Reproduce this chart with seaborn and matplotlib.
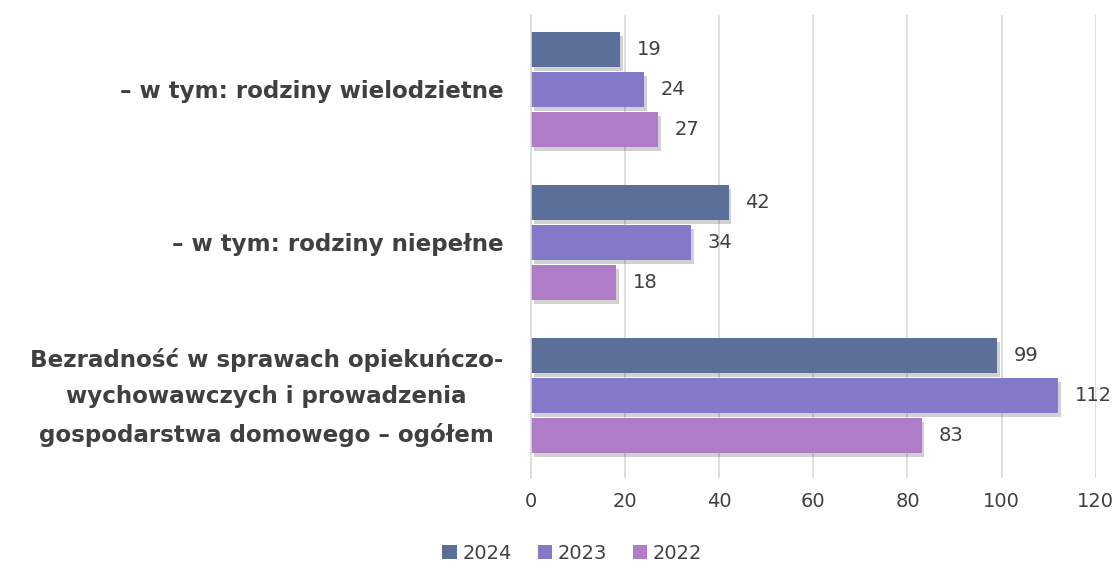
import pandas as pd
import matplotlib.pyplot as plt
import matplotlib.patheffects as pe
import matplotlib.transforms as mtransforms
import seaborn as sns

# Dane
kategorie = [
    '– w tym: rodziny wielodzietne',
    '– w tym: rodziny niepełne',
    'Bezradność w sprawach opiekuńczo-\nwychowawczych i prowadzenia\ngospodarstwa domowego – ogółem',
]
lata = ['2024', '2023', '2022']
wartosci_2024 = [19, 42, 99]
wartosci_2023 = [24, 34, 112]
wartosci_2022 = [27, 18, 83]
kolory = ['#5b6f99', '#8279c9', '#af7cc7']

df = pd.DataFrame({
    'kategoria': kategorie * 3,
    'rok': [lata[0]] * 3 + [lata[1]] * 3 + [lata[2]] * 3,
    'wartosc': wartosci_2024 + wartosci_2023 + wartosci_2022,
})

sns.set_style('white')
plt.rcParams['font.family'] = ['DejaVu Sans']

fig, ax = plt.subplots(figsize=(11.18, 5.64), dpi=100)
fig.subplots_adjust(left=0.475, right=0.98, top=0.973, bottom=0.152)

sns.barplot(data=df, y='kategoria', x='wartosc', hue='rok', hue_order=lata,
            order=kategorie, palette=kolory, width=0.78, gap=0.12,
            orient='h', ax=ax, saturation=1, linewidth=0, edgecolor='none')

for cont in ax.containers:
    for bar in cont:
        bar.set_path_effects([pe.SimplePatchShadow(offset=(2, -3), alpha=0.18, shadow_rgbFace='black'),
                              pe.Normal()])
    ax.bar_label(cont, padding=12, fontsize=14, color='#404040')

ax.set_xlim(0, 120)
ax.set_xticks(range(0, 121, 20))
ax.set_ylim(2.54, -0.484)
ax.grid(axis='x', color='#d9d9d9', linewidth=1.2)
ax.set_axisbelow(True)
for s in ['top', 'right', 'bottom']:
    ax.spines[s].set_visible(False)
ax.spines['left'].set_color('#d9d9d9')
ax.spines['left'].set_linewidth(1.2)
ax.tick_params(axis='x', length=0, labelsize=14, labelcolor='#404040', pad=10)
ax.tick_params(axis='y', length=0, pad=20)
for lbl in ax.get_yticklabels():
    lbl.set_fontsize(16.6)
    lbl.set_fontweight('bold')
    lbl.set_color('#404040')
    lbl.set_multialignment('center')
    lbl.set_linespacing(1.75)
    if '\n' in lbl.get_text():
        # przesunięcie wieloliniowej etykiety lekko w górę
        lbl.set_transform(lbl.get_transform() +
                          mtransforms.ScaledTranslation(0, 0.08, fig.dpi_scale_trans))
ax.set_xlabel('')
ax.set_ylabel('')

# legenda wycentrowana pod wykresem
ax.legend(loc='lower center', bbox_to_anchor=(0.512, -0.012),
          bbox_transform=fig.transFigure, ncol=3, frameon=False, fontsize=14,
          handlelength=0.75, handleheight=0.75, handletextpad=0.3, columnspacing=1.3,
          labelcolor='#404040', borderaxespad=0)

plt.savefig('out.png', dpi=100)
plt.close()
